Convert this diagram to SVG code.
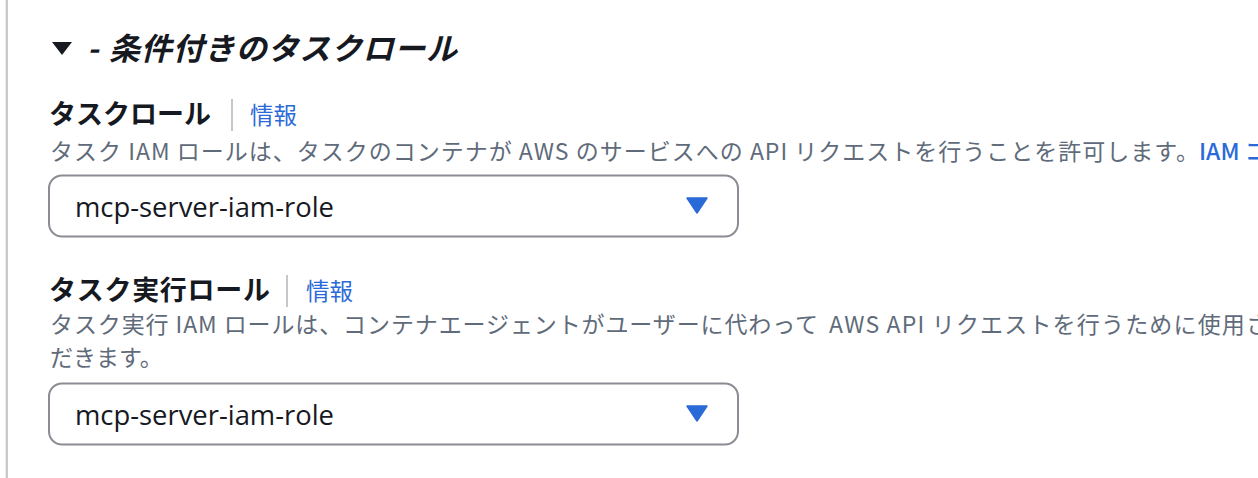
<svg xmlns="http://www.w3.org/2000/svg" width="1258" height="478" viewBox="0 0 1258 478">
<style>
.jp{font-family:"Noto Sans CJK JP","Noto Sans",sans-serif}
.title{font-size:31px;font-weight:700;font-style:italic;fill:#16191f}
.hdr{font-size:27px;font-weight:700;fill:#16191f}
.info{font-size:23.5px;fill:#2a6ad8}
.desc{font-size:23px;fill:#5f6b7a}
.val{font-family:"Open Sans","Noto Sans",sans-serif;font-size:28px;fill:#16191f}
.box{fill:#ffffff;stroke:#8c8c94;stroke-width:2}
.sep{stroke:#c6c6cd;stroke-width:2}
.caret{fill:#2a6ad8}
</style>
<rect x="0" y="0" width="1258" height="478" fill="#ffffff"/>
<rect id="left-border" x="5.7" y="0" width="2.2" height="478" fill="#c6c6cd"/>
<g id="section-title">
  <polygon points="52,42 72,42 62,55" fill="#16191f"/>
  <text class="jp title" x="87" y="60">-</text>
  <text class="jp title" x="109" y="60" textLength="348" lengthAdjust="spacing">条件付きのタスクロール</text>
</g>
<g id="task-role">
  <text class="jp hdr" x="49" y="124">タスクロール</text>
  <line class="sep" x1="232" y1="99" x2="232" y2="131"/>
  <text class="jp info" x="250" y="124">情報</text>
  <text class="jp desc" x="50" y="160" textLength="1149" lengthAdjust="spacing">タスク IAM ロールは、タスクのコンテナが AWS のサービスへの API リクエストを行うことを許可します。</text>
  <text class="jp desc" x="1199" y="160" style="fill:#2a6ad8;font-weight:500">IAM コ</text>
</g>
<g id="task-role-select">
  <rect class="box" x="49" y="175.5" width="689" height="61" rx="13"/>
  <text class="val" x="75" y="217" textLength="259" lengthAdjust="spacingAndGlyphs">mcp-server-iam-role</text>
  <polygon class="caret" points="687,198 707,198 697,213" stroke="#2a6ad8" stroke-width="1.5" stroke-linejoin="round"/>
</g>
<g id="execution-role">
  <text class="jp hdr" x="49" y="300" textLength="221" lengthAdjust="spacing">タスク実行ロール</text>
  <line class="sep" x1="287" y1="275" x2="287" y2="307"/>
  <text class="jp info" x="306" y="300">情報</text>
  <text class="jp desc" x="50" y="333" textLength="768" lengthAdjust="spacing">タスク実行 IAM ロールは、コンテナエージェントがユーザーに代わって</text>
  <text class="jp desc" x="829" y="333" textLength="440" lengthAdjust="spacing">AWS API リクエストを行うために使用さ</text>
  <text class="jp desc" x="50" y="366">だきます。</text>
</g>
<g id="execution-role-select">
  <rect class="box" x="49" y="383.5" width="689" height="61" rx="13"/>
  <text class="val" x="75" y="425" textLength="259" lengthAdjust="spacingAndGlyphs">mcp-server-iam-role</text>
  <polygon class="caret" points="687,406 707,406 697,421" stroke="#2a6ad8" stroke-width="1.5" stroke-linejoin="round"/>
</g>
</svg>
